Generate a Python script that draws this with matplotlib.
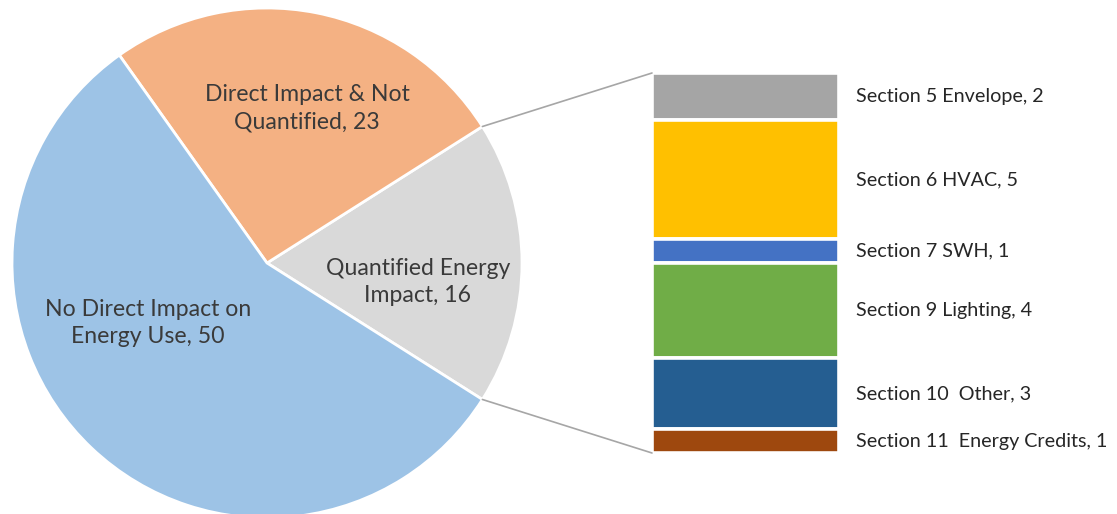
import numpy as np
import matplotlib
matplotlib.use("Agg")
import matplotlib.pyplot as plt
from matplotlib.patches import ConnectionPatch

plt.rcParams['font.family'] = ['Lato', 'DejaVu Sans']

# Pie: provisions by energy impact
pie_labels = ["Quantified Energy\nImpact", "Direct Impact & Not\nQuantified", "No Direct Impact on\nEnergy Use"]
pie_values = [16, 23, 50]
pie_colors = ["#D9D9D9", "#F4B183", "#9DC3E6"]

# Breakdown of the quantified slice (top to bottom)
sec_labels = ["Section 5 Envelope", "Section 6 HVAC", "Section 7 SWH", "Section 9 Lighting",
              "Section 10  Other", "Section 11  Energy Credits"]
sec_values = [2, 5, 1, 4, 3, 1]
sec_colors = ["#A5A5A5", "#FFC000", "#4472C4", "#70AD47", "#255E91", "#9E480E"]

W, H = 1117, 514
fig = plt.figure(figsize=(W / 100, H / 100), dpi=100)

# pie axes
ax_pie = fig.add_axes([12 / W, -4 / H, 510 / W, 510 / H])
half_angle = pie_values[0] / sum(pie_values) * 360 / 2
wedges, _ = ax_pie.pie(pie_values, colors=pie_colors, startangle=-half_angle, counterclock=True,
                       radius=1.0, wedgeprops=dict(edgecolor="white", linewidth=2))
ax_pie.set_xlim(-1, 1)
ax_pie.set_ylim(-1, 1)
ax_pie.set_aspect("equal")
ax_pie.axis("off")

label_pos = [(0.592, -0.075), (0.157, 0.608), (-0.467, -0.237)]
for (lx, ly), lab, v in zip(label_pos, pie_labels, pie_values):
    ax_pie.text(lx, ly, f"{lab}, {v}", ha="center", va="center", fontsize=16.6,
                color="#3A3A3A", linespacing=1.36)

# stacked bar axes
ax_bar = fig.add_axes([652 / W, 61 / H, 187 / W, 380 / H])
total = sum(sec_values)
top = total
for lab, v, c in zip(sec_labels, sec_values, sec_colors):
    ax_bar.bar(0, v, bottom=top - v, width=1.0, color=c, edgecolor="white", linewidth=2.6)
    ax_bar.text(0.59, top - v / 2, f"{lab}, {v}", ha="left", va="center", fontsize=14.2,
                color="#262626", clip_on=False)
    top -= v
ax_bar.set_xlim(-0.5, 0.5)
ax_bar.set_ylim(0, total)
ax_bar.axis("off")

# connector lines from the quantified slice to the bar
a = np.deg2rad(half_angle)
for (px, py), (bx, by) in [((np.cos(a), np.sin(a)), (-0.5, total)),
                           ((np.cos(-a), np.sin(-a)), (-0.5, 0))]:
    con = ConnectionPatch(xyA=(px, py), coordsA=ax_pie.transData,
                          xyB=(bx, by), coordsB=ax_bar.transData,
                          color="#A6A6A6", linewidth=1.2)
    fig.add_artist(con)

fig.savefig("out.png", dpi=100, facecolor="white")
